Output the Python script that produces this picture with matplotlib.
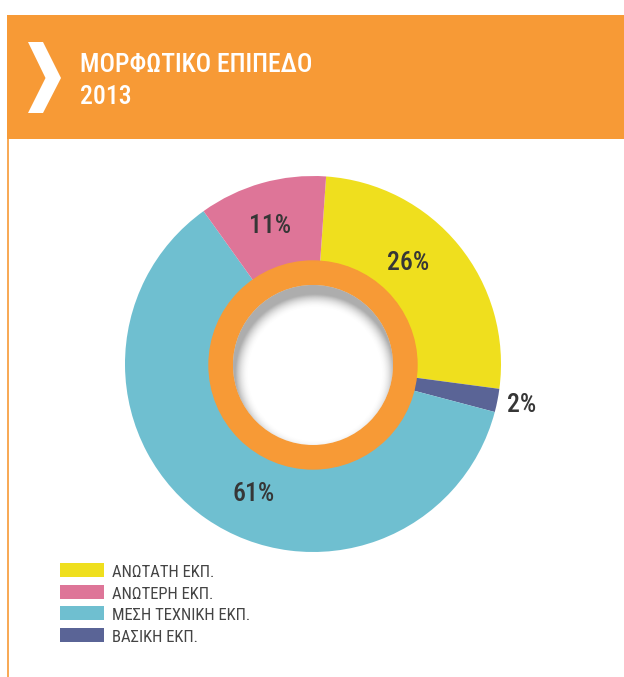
import numpy as np
import matplotlib
matplotlib.use("Agg")
import matplotlib.pyplot as plt
from matplotlib.patches import Rectangle, Polygon, Circle

# data
categories = ["ΑΝΩΤΑΤΗ ΕΚΠ.", "ΑΝΩΤΕΡΗ ΕΚΠ.", "ΜΕΣΗ ΤΕΧΝΙΚΗ ΕΚΠ.", "ΒΑΣΙΚΗ ΕΚΠ."]
shares = [26, 11, 61, 2]
colors = ["#EFDF1E", "#DE7598", "#6FBFD0", "#5A6496"]
title = "ΜΟΡΦΩΤΙΚΟ ΕΠΙΠΕΔΟ"
year = "2013"

ORANGE = "#F79A36"
W, H = 624, 677
FONT = ["Roboto Condensed", "DejaVu Sans Condensed", "Roboto", "DejaVu Sans"]


def yy(y):
    # image pixel row -> axes y
    return H - y


fig = plt.figure(figsize=(W / 100, H / 100), dpi=100)
ax = fig.add_axes([0, 0, 1, 1])

# pie: drawn clockwise from near the top, order yellow, dark blue, teal, pink
order = [0, 3, 2, 1]
cx, cy, r_out = 313, 364, 188
ax.pie([shares[i] for i in order], colors=[colors[i] for i in order],
       startangle=86, counterclock=False, center=(cx, yy(cy)), radius=r_out,
       wedgeprops=dict(linewidth=0))

# orange ring and white hole with inner shadow
ax.add_patch(Circle((cx, yy(cy + 1)), 104, color=ORANGE, zorder=5))
hole = Circle((cx, yy(cy + 1)), 80, facecolor="white", edgecolor="none", zorder=6)
ax.add_patch(hole)
n = 200
gx, gy = np.meshgrid(np.linspace(cx - 80, cx + 80, n), np.linspace(cy - 80, cy + 80, n))
d = np.hypot(gx - cx - 2, gy - cy - 1 - 8)
shade = np.clip((d - 66) / 14, 0, 1) ** 2.0 * 0.55
img = np.ones((n, n, 4))
img[..., :3] = 0.42
img[..., 3] = shade
im = ax.imshow(img, extent=(cx - 80, cx + 80, yy(cy + 1 + 80), yy(cy + 1 - 80)),
               origin="upper", zorder=7, interpolation="bilinear")
im.set_clip_path(hole)

# percent labels
label_pos = {0: (408, 263), 1: (270, 226), 2: (254, 494), 3: (522, 405)}
for i, s in enumerate(shares):
    x, y = label_pos[i]
    ax.text(x, yy(y), f"{s}%", ha="center", va="center", fontsize=18.5,
            fontweight="medium", color="#363636", family=FONT, zorder=8)

# header
ax.add_patch(Rectangle((7, yy(139)), W - 7, 124, color=ORANGE, lw=0))
ax.plot([8, 8], [yy(139), 0], color=ORANGE, lw=1.2)
ax.add_patch(Polygon([(28, yy(42)), (43, yy(42)), (61, yy(78)), (43, yy(113)),
                      (28, yy(113)), (45.5, yy(78))], color="white", lw=0))
ax.text(80, yy(72), title, color="white", fontsize=18.5, family=FONT,
        fontweight="medium", va="baseline", ha="left")
ax.text(80, yy(104), year, color="white", fontsize=18.5, family=FONT,
        fontweight="medium", va="baseline", ha="left")

# legend
for k, (lab, col) in enumerate(zip(categories, colors)):
    top = 563 + 21.7 * k
    ax.add_patch(Rectangle((60, yy(top + 14)), 44, 14, color=col, lw=0))
    ax.text(112, yy(top + 14), lab, color="#444444", fontsize=12, family=FONT,
            va="baseline", ha="left")

ax.set_xlim(0, W)
ax.set_ylim(0, H)
ax.set_aspect("auto")
ax.axis("off")
fig.savefig("out.png", dpi=100)
